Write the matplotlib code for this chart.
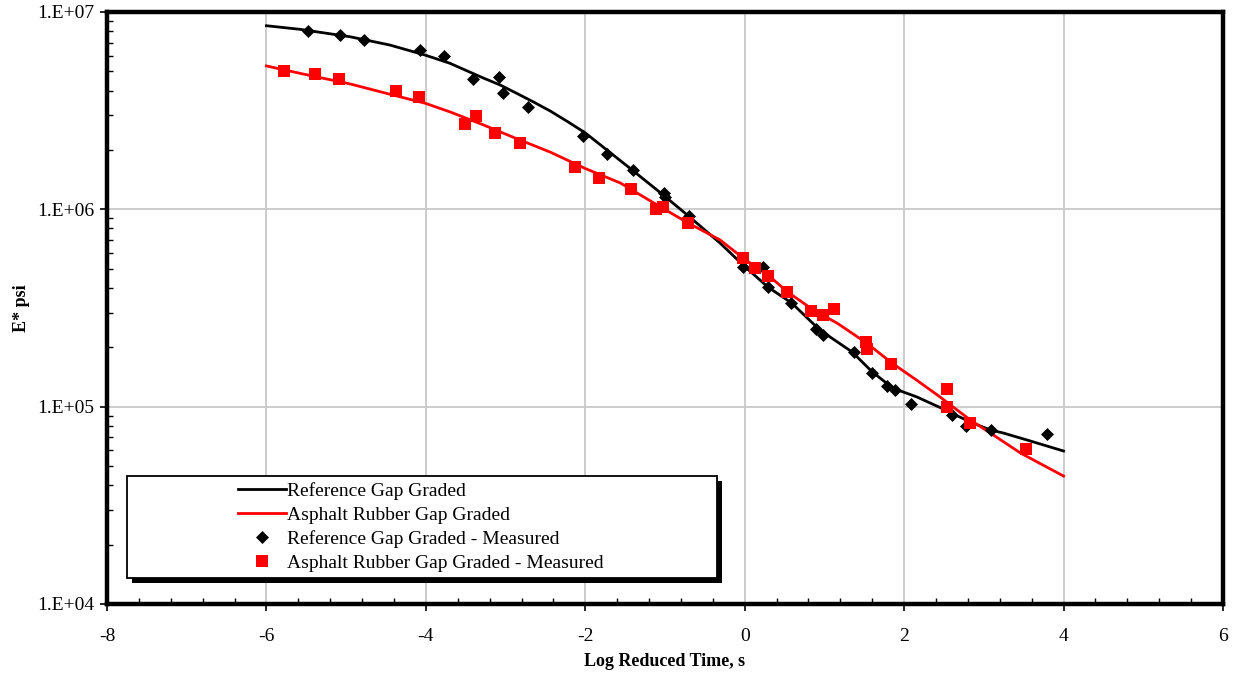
import matplotlib
matplotlib.use("Agg")
import matplotlib.pyplot as plt
from matplotlib.ticker import FixedLocator, FuncFormatter, MultipleLocator, NullFormatter
from matplotlib.patches import Rectangle
import numpy as np

plt.rcParams['font.family'] = ['Liberation Serif', 'DejaVu Serif']
plt.rcParams['axes.unicode_minus'] = False

# fitted master curves
ref_fit_x = [-6.0, -5.58, -4.95, -4.45, -4.01, -3.70, -3.28, -3.07, -2.86, -2.65, -2.44, -2.22,
             -2.0, -1.73, -1.41, -1.02, -0.69, -0.31, -0.02, 0.29, 0.59, 0.94, 1.35, 1.60,
             1.86, 2.16, 2.45, 2.83, 3.08, 3.24, 3.54, 4.0]
ref_fit = [8.52e6, 8.17e6, 7.49e6, 6.80e6, 6.05e6, 5.50e6, 4.63e6, 4.27e6, 3.87e6, 3.5e6,
           3.15e6, 2.78e6, 2.44e6, 2.0e6, 1.58e6, 1.18e6, 9.14e5, 6.75e5, 5.22e5, 4.04e5,
           3.35e5, 2.45e5, 1.89e5, 1.50e5, 1.24e5, 1.12e5, 9.9e4, 8.36e4, 7.62e4, 7.36e4,
           6.78e4, 5.96e4]
ar_fit_x = [-6.0, -5.58, -4.95, -4.45, -4.01, -3.70, -3.28, -2.86, -2.44, -2.0, -1.56,
            -1.06, -0.71, -0.31, -0.02, 0.29, 0.54, 0.86, 1.16, 1.53, 1.85, 2.16, 2.45, 2.83,
            3.12, 3.46, 4.0]
ar_fit = [5.33e6, 4.89e6, 4.32e6, 3.83e6, 3.45e6, 3.12e6, 2.68e6, 2.28e6, 1.95e6, 1.61e6,
          1.36e6, 1.03e6, 8.53e5, 7.0e5, 5.66e5, 4.65e5, 3.81e5, 3.09e5, 2.65e5, 2.10e5,
          1.66e5, 1.36e5, 1.12e5, 8.56e4, 7.18e4, 5.82e4, 4.45e4]

# measured points
ref_x = [-5.48, -5.08, -4.78, -4.07, -3.77, -3.41, -3.08, -3.03, -2.72, -2.03, -1.73, -1.40,
         -1.01, -1.00, -0.70, -0.02, 0.23, 0.29, 0.58, 0.89, 0.98, 1.37, 1.60, 1.79, 1.89,
         2.09, 2.60, 2.78, 3.09, 3.79]
ref_y = [8.0e6, 7.65e6, 7.21e6, 6.42e6, 5.98e6, 4.57e6, 4.69e6, 3.89e6, 3.30e6, 2.35e6,
         1.91e6, 1.58e6, 1.21e6, 1.15e6, 9.25e5, 5.10e5, 5.10e5, 4.04e5, 3.35e5, 2.48e5,
         2.31e5, 1.89e5, 1.48e5, 1.27e5, 1.21e5, 1.03e5, 9.07e4, 7.98e4, 7.62e4, 7.27e4]
ar_x = [-5.78, -5.39, -5.09, -4.37, -4.09, -3.51, -3.37, -3.13, -2.82, -2.13, -1.83, -1.43,
        -1.11, -1.02, -0.71, -0.02, 0.13, 0.29, 0.53, 0.83, 0.98, 1.12, 1.52, 1.53, 1.84,
        2.54, 2.54, 2.83, 3.53]
ar_y = [5.02e6, 4.85e6, 4.57e6, 3.98e6, 3.71e6, 2.71e6, 2.97e6, 2.44e6, 2.17e6, 1.64e6,
        1.44e6, 1.27e6, 1.00e6, 1.03e6, 8.53e5, 5.66e5, 5.04e5, 4.59e5, 3.81e5, 3.05e5,
        2.91e5, 3.13e5, 2.13e5, 1.96e5, 1.64e5, 1.23e5, 9.96e4, 8.26e4, 6.10e4]

fig = plt.figure(figsize=(12.33, 6.75), dpi=100)
ax = fig.add_axes([107/1233, 1-604/675, 1116/1233, 592/675])

ax.plot(ref_fit_x, ref_fit, color='black', lw=2, label='Reference Gap Graded', zorder=3)
ax.plot(ar_fit_x, ar_fit, color='red', lw=2, label='Asphalt Rubber Gap Graded', zorder=3)
ax.plot(ref_x, ref_y, 'D', color='black', ms=6.6, mew=0.5, ls='none',
        label='Reference Gap Graded - Measured', zorder=4)
ax.plot(ar_x, ar_y, 's', color='red', ms=8.4, mew=0, ls='none',
        label='Asphalt Rubber Gap Graded - Measured', zorder=4)

ax.set_yscale('log')
ax.set_xlim(-8, 6)
ax.set_ylim(1e4, 1e7)
ax.xaxis.set_major_locator(MultipleLocator(2))
ax.xaxis.set_minor_locator(MultipleLocator(0.4))
ax.yaxis.set_major_locator(FixedLocator([1e4, 1e5, 1e6, 1e7]))
ax.yaxis.set_major_formatter(FuncFormatter(lambda v, p: '1.E+%02d' % round(np.log10(v))))
ax.yaxis.set_minor_locator(FixedLocator([m * 10**e for e in (4, 5, 6) for m in range(2, 10)]))
ax.yaxis.set_minor_formatter(NullFormatter())

ax.tick_params(which='major', direction='out', length=5, width=1.2, labelsize=14, pad=4)
ax.tick_params(axis='x', which='major', pad=12)
ax.tick_params(which='minor', direction='in', length=4, width=1)
for s in ax.spines.values():
    s.set_linewidth(3.2)

ax.set_axisbelow(True)
ax.grid(which='major', color='#c8c8c8', lw=1.3)

ax.set_xlabel('Log Reduced Time, s', fontsize=13, fontweight='bold', labelpad=6)
ax.set_ylabel('E* psi', fontsize=13, fontweight='bold', labelpad=5)

# legend box with hard shadow
bx0, bx1 = (127-107)/1116, (717-107)/1116
by0, by1 = (604-578)/592, (604-476)/592
ax.add_patch(Rectangle((bx0 + 5/1116, by0 - 5/592), bx1 - bx0, by1 - by0,
                       transform=ax.transAxes, facecolor='black', edgecolor='none', zorder=1))
ax.add_patch(Rectangle((bx0, by0), bx1 - bx0, by1 - by0, transform=ax.transAxes,
                       facecolor='white', edgecolor='black', lw=1.3, zorder=1.1))
ax.legend(loc='upper left', bbox_to_anchor=((238-107)/1116, (604-482)/592),
          frameon=False, borderpad=0, borderaxespad=0, handlelength=2.45,
          handletextpad=0.05, labelspacing=0.33, fontsize=14)

fig.savefig('out.png', dpi=100)
